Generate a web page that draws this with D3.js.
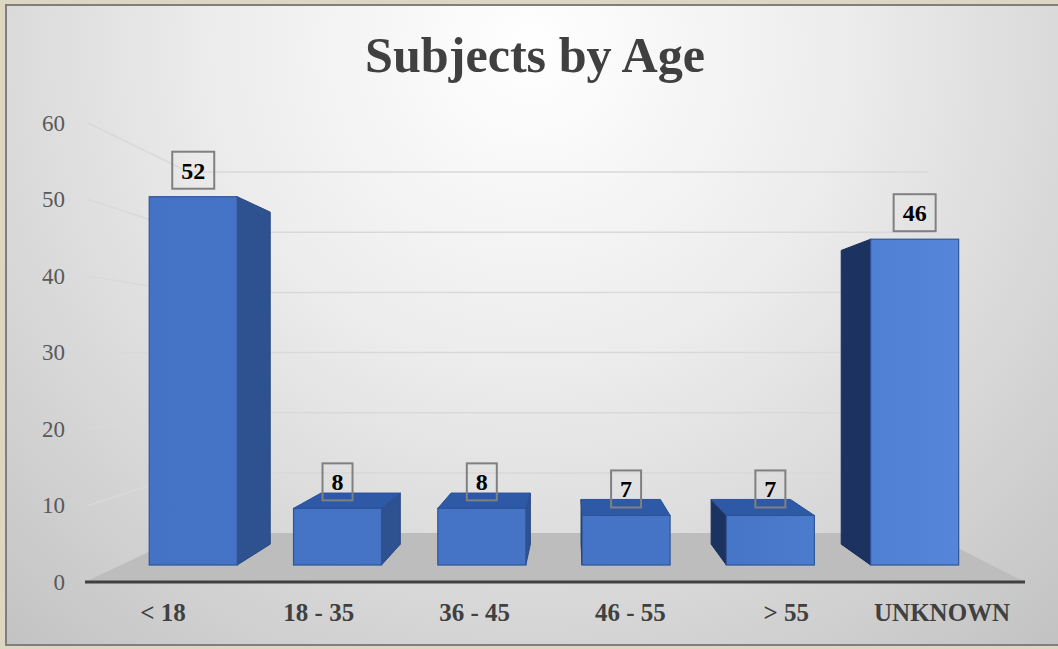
<!DOCTYPE html>
<html>
<head>
<meta charset="utf-8">
<script src="https://cdn.jsdelivr.net/npm/d3@7"></script>
<style>
  body { margin: 0; background: #ddd7c2; }
  svg { display: block; }
</style>
</head>
<body>
<div id="chart"></div>
<script>
// chart data
var categories = ['< 18', '18 - 35', '36 - 45', '46 - 55', '> 55', 'UNKNOWN'];
var values = [52, 8, 8, 7, 7, 46];
var yTicks = [0, 10, 20, 30, 40, 50, 60];
var title = 'Subjects by Age';

var width = 1058, height = 649;
var serif = '"Liberation Serif", "DejaVu Serif", serif';

var svg = d3.select('#chart')
  .append('svg')
  .attr('width', width)
  .attr('height', height);

// scales live on the front plane of the 3D box
var x = d3.scaleBand().domain(categories).range([85, 1020]).paddingInner(0.39).paddingOuter(0.195);
var y = d3.scaleLinear().domain([0, 60]).range([582, 123]);

// simple perspective: z = 0 front plane, z = 1 back wall
var vp = [572, 353], k = 0.2714;
function proj(px, py, z) {
  var s = 1 / (1 + k * z);
  return [vp[0] + s * (px - vp[0]), vp[1] + s * (py - vp[1])];
}
var zFront = 0.295, zBack = 0.73;

// background
var defs = svg.append('defs');
var bg = defs.append('radialGradient').attr('id', 'bg')
  .attr('gradientUnits', 'userSpaceOnUse')
  .attr('cx', 530).attr('cy', 50).attr('r', 800);
bg.append('stop').attr('offset', 0).attr('stop-color', '#ffffff');
bg.append('stop').attr('offset', 0.4).attr('stop-color', '#ececec');
bg.append('stop').attr('offset', 1).attr('stop-color', '#c2c2c2');

var front = defs.append('linearGradient').attr('id', 'front')
  .attr('gradientUnits', 'userSpaceOnUse')
  .attr('x1', 150).attr('x2', 960).attr('y1', 0).attr('y2', 0);
front.append('stop').attr('offset', 0).attr('stop-color', '#4472c4');
front.append('stop').attr('offset', 0.7).attr('stop-color', '#4674c7');
front.append('stop').attr('offset', 1).attr('stop-color', '#5586d9');

svg.append('rect')
  .attr('x', 6).attr('y', 5)
  .attr('width', 1062).attr('height', 640)
  .attr('fill', 'url(#bg)')
  .attr('stroke', '#7f7f7f')
  .attr('stroke-width', 2);

// title
svg.append('text')
  .attr('x', 535).attr('y', 72)
  .attr('text-anchor', 'middle')
  .attr('textLength', 340)
  .attr('lengthAdjust', 'spacingAndGlyphs')
  .style('font-family', serif)
  .style('font-weight', 'bold')
  .style('font-size', '50px')
  .style('fill', '#404040')
  .text(title);

var x0 = x.range()[0], x1 = x.range()[1] + 5;
function pts(list) { return list.map(function (p) { return p.join(','); }).join(' '); }

// floor
svg.append('polygon')
  .attr('points', pts([proj(x0, y(0), 0), proj(x1, y(0), 0), proj(x1, y(0), 1), proj(x0, y(0), 1)]))
  .attr('fill', '#bdbdbd');

// gridlines on back wall and left wall
var grid = svg.append('g').attr('stroke', '#d9d9d9').attr('stroke-width', 1.5);
yTicks.slice(1).forEach(function (t) {
  var a = proj(x0, y(t), 1), b = proj(x1, y(t), 1), c = proj(x0, y(t), 0);
  grid.append('line').attr('x1', a[0]).attr('y1', a[1]).attr('x2', b[0]).attr('y2', b[1]);
  grid.append('line').attr('x1', c[0] + 3).attr('y1', c[1]).attr('x2', a[0]).attr('y2', a[1]);
});

// front axis line
var fa = proj(x0, y(0), 0), fb = proj(x1, y(0), 0);
svg.append('line')
  .attr('x1', fa[0]).attr('y1', fa[1]).attr('x2', fb[0]).attr('y2', fb[1])
  .attr('stroke', '#404040').attr('stroke-width', 3);

// bars
var bars = svg.selectAll('.bar')
  .data(categories.map(function (c, i) { return {cat: c, value: values[i]}; }))
  .enter()
  .append('g')
  .attr('class', 'bar');

bars.each(function (d) {
  var g = d3.select(this);
  var X0 = x(d.cat), X1 = X0 + x.bandwidth();
  var Yt = y(d.value), Yb = y(0);
  if (X1 < vp[0]) {
    g.append('polygon')
      .attr('points', pts([proj(X1, Yb, zFront), proj(X1, Yt, zFront), proj(X1, Yt, zBack), proj(X1, Yb, zBack)]))
      .attr('fill', '#2e5190').attr('stroke', '#284a85').attr('stroke-width', 1);
  }
  if (X0 > vp[0]) {
    g.append('polygon')
      .attr('points', pts([proj(X0, Yb, zFront), proj(X0, Yt, zFront), proj(X0, Yt, zBack), proj(X0, Yb, zBack)]))
      .attr('fill', '#1c3260').attr('stroke', '#1a2e58').attr('stroke-width', 1);
  }
  if (Yt > vp[1]) {
    g.append('polygon')
      .attr('points', pts([proj(X0, Yt, zFront), proj(X1, Yt, zFront), proj(X1, Yt, zBack), proj(X0, Yt, zBack)]))
      .attr('fill', '#2e59a6').attr('stroke', '#2b539a').attr('stroke-width', 1);
  }
  var a = proj(X0, Yt, zFront), b = proj(X1, Yb, zFront);
  g.append('rect')
    .attr('x', a[0]).attr('y', a[1])
    .attr('width', b[0] - a[0]).attr('height', b[1] - a[1])
    .attr('fill', 'url(#front)')
    .attr('stroke', '#2f5597').attr('stroke-width', 1.2);

  // data label box
  var p = proj(X0 + x.bandwidth() / 2, Yt, zFront);
  var txt = g.append('text')
    .attr('x', p[0]).attr('y', p[1] - 18)
    .attr('text-anchor', 'middle')
    .style('font-family', serif)
    .style('font-weight', 'bold')
    .style('font-size', '24px')
    .style('fill', '#000')
    .text(d.value);
  var w = txt.node().getComputedTextLength() + 18;
  g.insert('rect', 'text')
    .attr('x', p[0] - w / 2).attr('y', p[1] - 45)
    .attr('width', w).attr('height', 37)
    .attr('fill', 'none')
    .attr('stroke', '#808080').attr('stroke-width', 2);
});

// y axis labels
var yAxis = svg.append('g')
  .attr('transform', 'translate(65,0)')
  .call(d3.axisLeft(y).tickValues(yTicks).tickSize(0).tickPadding(0));
yAxis.select('.domain').remove();
yAxis.selectAll('text')
  .style('font-family', serif)
  .style('font-size', '23px')
  .style('fill', '#595959');

// x axis labels
var xAxis = svg.append('g')
  .attr('transform', 'translate(0,582)')
  .call(d3.axisBottom(x).tickSize(0).tickPadding(21));
xAxis.select('.domain').remove();
xAxis.selectAll('text')
  .style('font-family', serif)
  .style('font-weight', 'bold')
  .style('font-size', '25px')
  .style('fill', '#404040');
</script>
</body>
</html>
